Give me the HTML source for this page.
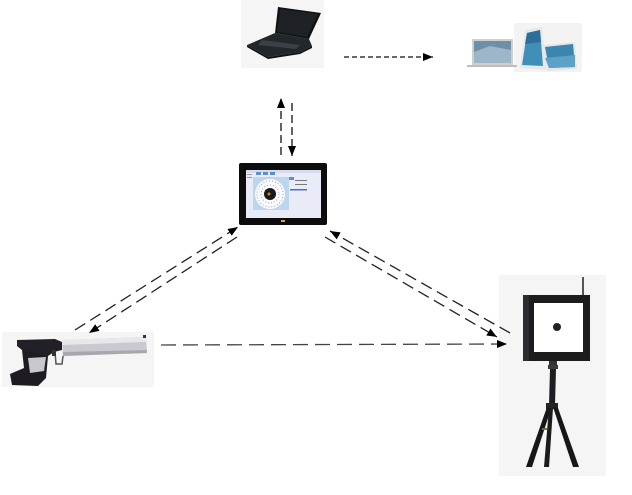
<!DOCTYPE html>
<html>
<head>
<meta charset="utf-8">
<style>
  html,body{margin:0;padding:0;background:#fff;}
  body{width:632px;height:495px;overflow:hidden;}
  svg{display:block;}
</style>
</head>
<body>
<svg width="632" height="495" viewBox="0 0 632 495" xmlns="http://www.w3.org/2000/svg">
  <defs>
    <marker id="ah" markerUnits="userSpaceOnUse" markerWidth="10" markerHeight="8" refX="10" refY="4" orient="auto">
      <path d="M0,0 L10,4 L0,8 z" fill="#000"/>
    </marker>
  </defs>

  <!-- Laptop (top) -->
  <rect x="241" y="0" width="83" height="68" fill="#f5f5f5"/>
  <polygon points="278,7 321,13 309,39 275,33" fill="#111"/>
  <polygon points="280,9 318,14 307,37 277,32" fill="#1e2226"/>
  <polygon points="275,33 309,39 312,46 300,52 268,57 247,45" fill="#22272b"/>
  <polygon points="262,40 300,45 296,49 258,45" fill="#3a4045"/>
  <polygon points="247,45 268,57 300,52 312,46 312,48 300,54 268,59 247,47" fill="#0f1113"/>

  <!-- Devices (top right) -->
  <rect x="514" y="23" width="68" height="49" fill="#f3f3f3"/>
  <rect x="472" y="39" width="41" height="26" fill="#cfcfcf"/>
  <rect x="474" y="41" width="37" height="22" fill="#6d8fa8"/>
  <polygon points="474,52 490,46 511,50 511,63 474,63" fill="#9db7c8"/>
  <rect x="467" y="65" width="50" height="2" fill="#bdbdbd"/>
  <polygon points="525,30 542,27 546,70 520,68" fill="#e8e8e8"/>
  <polygon points="527,33 540,30 543,66 522,65" fill="#3f8fb8"/>
  <polygon points="527,33 540,30 541,42 525,44" fill="#2c6f98"/>
  <polygon points="543,45 575,42 577,69 547,71" fill="#e6e6e6"/>
  <polygon points="545,47 573,44 575,67 549,68" fill="#3a86b0"/>
  <polygon points="545,58 575,55 575,67 549,68" fill="#5da2c6"/>

  <!-- Tablet (center) -->
  <rect x="239" y="163" width="88" height="62" rx="2" fill="#0c0c0c"/>
  <rect x="246" y="170" width="75" height="48" fill="#e9ebf6"/>
  <rect x="246" y="170" width="75" height="3" fill="#d7dbeb"/>
  <rect x="253" y="177" width="36" height="33" fill="#bcd6ee"/>
  <rect x="256" y="172" width="5" height="3" fill="#5d8fd0"/>
  <rect x="263" y="172" width="5" height="3" fill="#5d8fd0"/>
  <rect x="270" y="172" width="5" height="3" fill="#5d8fd0"/>
  <rect x="289" y="177" width="5" height="3" fill="#5d8fd0"/>
  <circle cx="270" cy="194" r="15" fill="#fbfbfd"/>
  <circle cx="270" cy="194" r="13" fill="none" stroke="#9aa3b5" stroke-width="1" stroke-dasharray="1,2"/>
  <circle cx="270" cy="194" r="9" fill="none" stroke="#9aa3b5" stroke-width="1" stroke-dasharray="1,2"/>
  <circle cx="270" cy="194" r="6" fill="#1a1a1a"/>
  <circle cx="269" cy="194" r="1.5" fill="#e07a2a"/>
  <rect x="295" y="180" width="12" height="1" fill="#777"/>
  <rect x="295" y="184" width="12" height="1" fill="#777"/>
  <rect x="290" y="189" width="17" height="1.5" fill="#4a6fc0"/>
  <rect x="247" y="174" width="5" height="1" fill="#999"/>
  <rect x="247" y="177" width="5" height="1" fill="#999"/>
  <rect x="281" y="220" width="4" height="2" fill="#c9a640"/>

  <!-- Pistol (left) -->
  <rect x="2" y="332" width="152" height="55" fill="#f5f5f5"/>
  <polygon points="62,340 146,337 147,353 63,356" fill="#c9c9cf"/>
  <polygon points="62,340 146,337 146,342 62,345" fill="#e7e7ec"/>
  <polygon points="63,352 147,350 147,353 63,356" fill="#a7a7ae"/>
  <rect x="143" y="335" width="3" height="3" fill="#333"/>
  <polygon points="17,340 55,339 62,342 62,350 54,352 48,356 35,358 22,350 17,346" fill="#222026"/>
  <polygon points="22,350 48,356 46,378 38,386 12,385 10,374 24,368" fill="#1e1c22"/>
  <polygon points="28,358 46,357 44,371 30,373" fill="#c7c7cd"/>
  <path d="M55,352 L56,364 L62,364 L63,356" fill="none" stroke="#555" stroke-width="1.5"/>
  <rect x="52" y="350" width="4" height="6" fill="#333"/>

  <!-- Target on tripod (right) -->
  <rect x="499" y="275" width="107" height="201" fill="#f5f5f5"/>
  <line x1="583" y1="277" x2="583" y2="296" stroke="#222" stroke-width="1.5"/>
  <rect x="523" y="295" width="67" height="66" fill="#1c1c1e"/>
  <rect x="523" y="295" width="6" height="66" fill="#2c2c30"/>
  <rect x="534" y="303" width="49" height="49" fill="#ffffff"/>
  <circle cx="557" cy="327" r="4" fill="#222"/>
  <rect x="549" y="361" width="8" height="4" fill="#333"/>
  <rect x="548" y="365" width="10" height="4" fill="#3a3a3a"/>
  <polygon points="550,369 556,369 555,405 549,405" fill="#1e1e22"/>
  <rect x="546" y="403" width="12" height="6" fill="#252528"/>
  <polygon points="547,407 551,409 532,467 526,467" fill="#17171a"/>
  <polygon points="549,408 553,408 549,467 544,467" fill="#1b1b1e"/>
  <polygon points="553,407 558,408 579,467 573,467" fill="#17171a"/>
  <rect x="542" y="428" width="5" height="2" fill="#7a6a45"/>

  <!-- Connectors -->
  <g fill="none" stroke="#111" stroke-width="1.3">
    <line x1="344" y1="57" x2="433" y2="57" stroke-dasharray="5,3" marker-end="url(#ah)"/>
    <line x1="281" y1="155" x2="281" y2="98" stroke-dasharray="8,4" marker-end="url(#ah)"/>
    <line x1="292" y1="103" x2="292" y2="156" stroke-dasharray="8,4" marker-end="url(#ah)"/>
  </g>
  <g fill="none" stroke="#222" stroke-width="1.3">
    <line x1="75" y1="330" x2="238" y2="227" stroke-dasharray="12,6" marker-end="url(#ah)"/>
    <line x1="237" y1="237" x2="89" y2="333" stroke-dasharray="12,6" marker-end="url(#ah)"/>
    <line x1="510" y1="333" x2="330" y2="231" stroke-dasharray="12,6" marker-end="url(#ah)"/>
    <line x1="325" y1="237" x2="497" y2="337" stroke-dasharray="12,6" marker-end="url(#ah)"/>
  </g>
  <line x1="161" y1="345" x2="507" y2="344" stroke="#444" stroke-width="1.3" stroke-dasharray="15,7" marker-end="url(#ah)"/>
</svg>
</body>
</html>
